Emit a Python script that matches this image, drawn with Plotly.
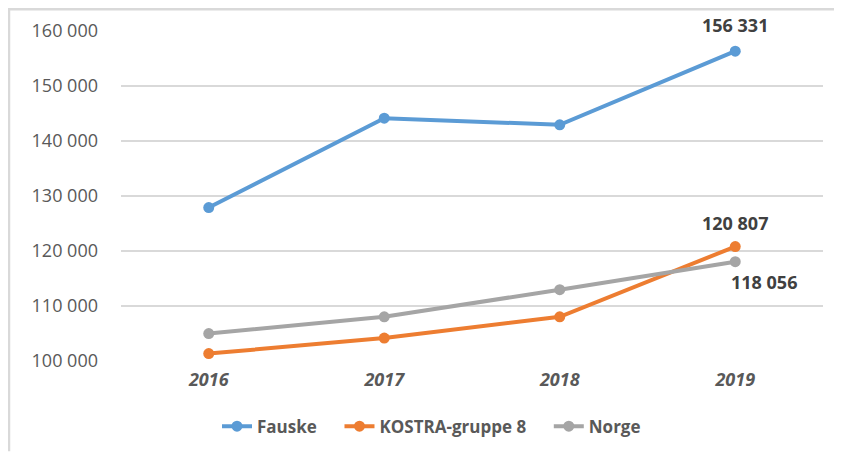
import plotly.graph_objects as go

years = ["2016", "2017", "2018", "2019"]
fauske = [127900, 144150, 142950, 156331]
kostra = [101350, 104170, 108040, 120807]
norge = [104990, 108040, 112960, 118056]
y_ticks = [100000, 110000, 120000, 130000, 140000, 150000, 160000]

NB = "\u00a0"
series = [
    ("Fauske" + NB * 4, fauske, "#5B9BD5", (0, 26)),
    ("KOSTRA-gruppe 8" + NB * 4, kostra, "#ED7D31", (0, 24)),
    ("Norge", norge, "#A5A5A5", (29, -20)),
]

FONT = "Open Sans"
fig = go.Figure()
for name, vals, color, shift in series:
    fig.add_trace(go.Scatter(
        x=years, y=vals, name=name, mode="lines+markers",
        line=dict(color=color, width=4),
        marker=dict(color=color, size=11),
        cliponaxis=False,
    ))

# page offset of 8 px (body margin) taken into account
W, H = 834, 449
L, R, T, B = 113, 19, 23, 91.5
pw, ph = W - L - R, H - T - B

def px(x):
    return (x - L) / pw

def py(y):
    return (H - B - y) / ph

last = len(years) - 1  # category index of the last year
for name, vals, color, shift in series:
    fig.add_annotation(
        x=last, y=vals[last], xref="x", yref="y",
        text=f"{vals[last]:,}".replace(",", " "), showarrow=False,
        xanchor="center", yanchor="middle",
        xshift=shift[0], yshift=shift[1],
        font=dict(family=FONT, size=18, color="#404040", weight="bold"),
    )

fig.update_layout(
    width=W, height=H,
    margin=dict(l=L, r=R, t=T, b=B, pad=0),
    paper_bgcolor="white", plot_bgcolor="white",
    separators=", ",
    showlegend=True,
    legend=dict(orientation="h", x=px(423.5), xanchor="center", y=py(424), yanchor="middle",
                font=dict(family=FONT, size=17, color="#595959", weight="bold"),
                itemwidth=30, traceorder="normal"),
    xaxis=dict(type="category", range=[-0.5, 3.5], showgrid=False, showline=False,
               zeroline=False, ticks="", automargin=False,
               tickfont=dict(family=FONT, size=18, color="#595959", weight="bold", style="italic"),
               ticklabelstandoff=6),
    yaxis=dict(range=[100000, 160000], tickvals=y_ticks, tickformat=",d", automargin=False,
               showgrid=True, gridcolor="#D9D9D9", gridwidth=1.5, zeroline=False,
               showline=False, ticks="",
               tickfont=dict(family=FONT, size=18, color="#595959"),
               ticklabelstandoff=22),
    shapes=[
        dict(type="line", xref="paper", yref="paper", x0=px(0), x1=px(W), y0=py(1), y1=py(1),
             line=dict(color="#D9D9D9", width=2.5)),
        dict(type="line", xref="paper", yref="paper", x0=px(1), x1=px(1), y0=py(1), y1=py(H),
             line=dict(color="#D9D9D9", width=2.5)),
    ],
)

fig.write_html("out.html")
